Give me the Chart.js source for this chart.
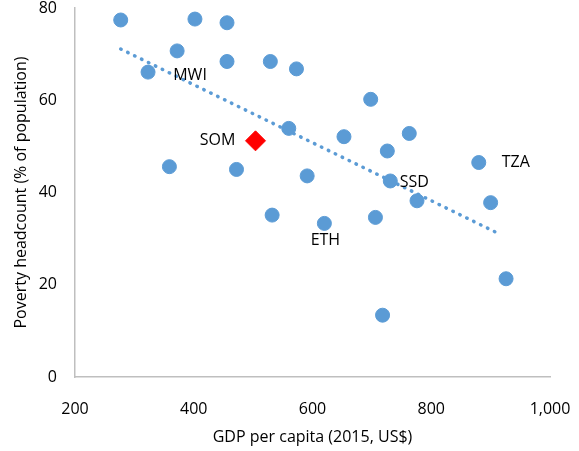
<!DOCTYPE html>
<html>
<head>
<meta charset="utf-8">
<script src="https://cdn.jsdelivr.net/npm/chart.js@4"></script>
<style>
  html, body { margin: 0; padding: 0; background: #fff; }
  #wrap { width: 579px; height: 451px; }
</style>
</head>
<body>
<div id="wrap"><canvas id="chart" width="579" height="451"></canvas></div>
<script>
// GDP per capita (2015, US$) vs poverty headcount (% of population)
const gdp = [277, 402, 456, 372, 323, 456, 529, 573, 560, 359, 472, 591, 698, 653, 763, 726, 880, 731, 776, 900, 620, 706, 926, 718, 532];
const poverty = [77.4, 77.6, 76.8, 70.7, 66.1, 68.4, 68.4, 66.8, 53.9, 45.6, 45.0, 43.6, 60.2, 52.1, 52.8, 49.0, 46.5, 42.5, 38.2, 37.8, 33.3, 34.6, 21.3, 13.4, 35.1];

// Somalia, highlighted
const somGdp = [504];
const somPoverty = [51.2];

// Linear trend endpoints
const trendGdp = [277, 915];
const trendPoverty = [71.1, 31.0];

// Country labels and the point each one belongs to
const labelText = ['MWI', 'SOM', 'TZA', 'SSD', 'ETH'];
const labelGdp = [323, 504, 880, 731, 620];
const labelPoverty = [66.1, 51.2, 46.5, 42.5, 33.3];

const xTicks = [200, 400, 600, 800, 1000];
const yTicks = [0, 20, 40, 60, 80];

const FONT = '"Open Sans", "Noto Sans", sans-serif';

const toXY = (xs, ys) => xs.map((x, i) => ({ x: x, y: ys[i] }));

// where each label sits relative to its point (pixels)
const labelOffsets = {
  MWI: [42, 3],
  SOM: [-38, 0],
  TZA: [37, 0],
  SSD: [24, 1],
  ETH: [1, 17]
};

const countryLabels = {
  id: 'countryLabels',
  afterDatasetsDraw(chart) {
    const { ctx, scales } = chart;
    ctx.save();
    ctx.font = '16px ' + FONT;
    ctx.fillStyle = '#000';
    ctx.textAlign = 'center';
    ctx.textBaseline = 'middle';
    labelText.forEach((t, i) => {
      const off = labelOffsets[t];
      ctx.fillText(t, scales.x.getPixelForValue(labelGdp[i]) + off[0], scales.y.getPixelForValue(labelPoverty[i]) + off[1]);
    });
    ctx.restore();
  }
};

// fixed axis boxes so the plot area lands where the original has it
const noPad = axis => {
  axis.paddingTop = 0;
  axis.paddingBottom = 0;
  axis.paddingLeft = 0;
  axis.paddingRight = 0;
};

new Chart(document.getElementById('chart'), {
  type: 'scatter',
  data: {
    datasets: [
      {
        label: 'Trend',
        type: 'line',
        data: toXY(trendGdp, trendPoverty),
        borderColor: '#5B9BD5',
        borderWidth: 3.5,
        borderDash: [0.5, 7.2],
        borderCapStyle: 'round',
        pointRadius: 0,
        fill: false,
        order: 3
      },
      {
        label: 'Countries',
        data: toXY(gdp, poverty),
        backgroundColor: '#5B9BD5',
        borderColor: '#5B9BD5',
        borderWidth: 1,
        pointRadius: 7,
        order: 2
      },
      {
        label: 'SOM',
        data: toXY(somGdp, somPoverty),
        pointStyle: 'rectRot',
        backgroundColor: '#FF0000',
        borderColor: '#FF0000',
        borderWidth: 1,
        pointRadius: 10,
        order: 1
      }
    ]
  },
  options: {
    responsive: false,
    animation: false,
    layout: { autoPadding: false, padding: { top: 8, right: 29, left: 0, bottom: 0 } },
    plugins: {
      legend: { display: false },
      tooltip: { enabled: false }
    },
    scales: {
      x: {
        type: 'linear',
        min: 200,
        max: 1000,
        afterBuildTicks: axis => { axis.ticks = xTicks.map(v => ({ value: v })); },
        afterFit: axis => { axis.height = 74; noPad(axis); },
        grid: { display: false, drawTicks: false },
        border: { color: '#BFBFBF', width: 1.5 },
        ticks: {
          color: '#000',
          font: { family: FONT, size: 16 },
          padding: 23,
          callback: v => v.toLocaleString('en-US')
        },
        title: {
          display: true,
          text: 'GDP per capita (2015, US$)',
          color: '#000',
          font: { family: FONT, size: 16 },
          padding: { top: 0, bottom: 4 }
        }
      },
      y: {
        type: 'linear',
        min: 0,
        max: 80,
        afterBuildTicks: axis => { axis.ticks = yTicks.map(v => ({ value: v })); },
        afterFit: axis => { axis.width = 75; noPad(axis); },
        grid: { display: false, drawTicks: false },
        border: { color: '#BFBFBF', width: 1.5 },
        ticks: {
          color: '#000',
          font: { family: FONT, size: 16 },
          padding: 18
        },
        title: {
          display: true,
          text: 'Poverty headcount (% of population)',
          color: '#000',
          font: { family: FONT, size: 16 },
          padding: { top: 12, bottom: 0 }
        }
      }
    }
  },
  plugins: [countryLabels]
});
</script>
</body>
</html>
